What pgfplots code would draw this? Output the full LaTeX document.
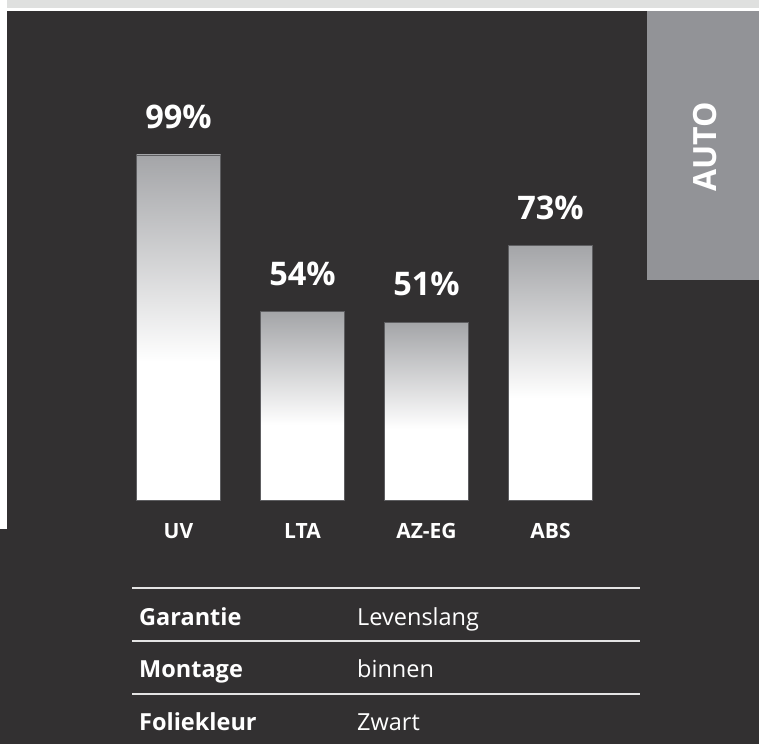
\documentclass[border=0pt]{standalone}
\usepackage{pgfplots}
\pgfplotsset{compat=1.18}
\usepackage{fontspec}
\setmainfont{Open Sans}
\definecolor{bg}{HTML}{323031}
\definecolor{strip}{HTML}{DFE0DF}
\definecolor{autobox}{HTML}{929397}
\definecolor{bartop}{HTML}{A4A5A8}
\definecolor{barline}{HTML}{5E5E61}
\definecolor{rule}{HTML}{E4E4E4}
\pgfdeclareverticalshading{barshade}{100bp}{color(0bp)=(white); color(25bp)=(white); color(45bp)=(white); color(75bp)=(bartop); color(100bp)=(bartop)}
\begin{document}
\begin{tikzpicture}[x=1pt,y=1pt]
\useasboundingbox (0,0) rectangle (759,744);
\fill[white] (0,0) rectangle (759,744);
\fill[strip] (7,744) rectangle (759,736);
\fill[bg] (7,733) rectangle (759,215);
\fill[bg] (0,215) rectangle (759,0);
\fill[autobox] (647,733) rectangle (759,464);
\node[rotate=90, text=white, font=\fontsize{32}{32}\selectfont\bfseries] at (705,597) {AUTO};
\begin{axis}[
  at={(116.5pt,244pt)}, anchor=south west,
  scale only axis, width=496pt, height=348.5pt,
  xmin=-0.5, xmax=3.5, ymin=0, ymax=100,
  enlargelimits=false, clip=false,
  axis line style={draw=none},
  major tick length=0pt,
  ytick=\empty,
  xtick={0,1,2,3},
  xticklabels={UV,LTA,AZ-EG,ABS},
  xticklabel style={anchor=center, yshift=-31pt, text=white, font=\fontsize{21}{21}\selectfont\bfseries},
  ybar, bar width=84pt, bar shift=0pt,
  /pgf/number format/assume math mode=true,
  nodes near coords={\pgfmathprintnumber{\pgfplotspointmeta}\%},
  every node near coord/.append style={anchor=center, yshift=38pt, text=white, font=\fontsize{32.5}{32.5}\selectfont\bfseries},
]
\addplot[draw=barline, line width=0.8pt, shading=barshade] coordinates {(0,99)};
\addplot[draw=barline, line width=0.8pt, shading=barshade] coordinates {(1,54)};
\addplot[draw=barline, line width=0.8pt, shading=barshade] coordinates {(2,51)};
\addplot[draw=barline, line width=0.8pt, shading=barshade] coordinates {(3,73)};
\end{axis}
\foreach \y in {156,103,50} {\draw[rule, line width=1.6pt] (132,\y) -- (640,\y);}
\begin{scope}[every node/.style={anchor=base west, inner sep=0pt, text=white, font=\fontsize{23.5}{23.5}\selectfont}]
\node[font=\fontsize{23.5}{23.5}\selectfont\bfseries] at (139,119) {Garantie};
\node at (357,119) {Levenslang};
\node[font=\fontsize{23.5}{23.5}\selectfont\bfseries] at (139,67) {Montage};
\node at (357,67) {binnen};
\node[font=\fontsize{23.5}{23.5}\selectfont\bfseries] at (139,14) {Foliekleur};
\node at (357,14) {Zwart};
\end{scope}
\end{tikzpicture}
\end{document}
